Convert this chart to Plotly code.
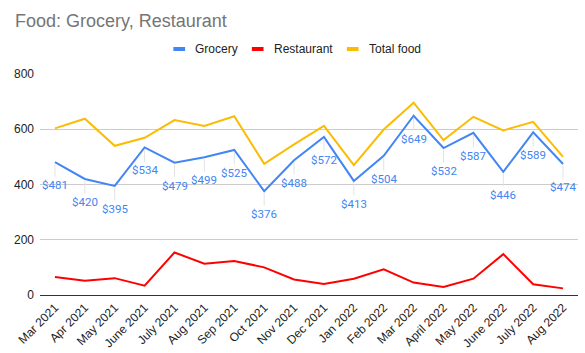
import plotly.graph_objects as go

months = ["Mar 2021", "Apr 2021", "May 2021", "June 2021", "July 2021", "Aug 2021",
          "Sep 2021", "Oct 2021", "Nov 2021", "Dec 2021", "Jan 2022", "Feb 2022",
          "Mar 2022", "April 2022", "May 2022", "June 2022", "July 2022", "Aug 2022"]
grocery = [481, 420, 395, 534, 479, 499, 525, 376, 488, 572, 413, 504, 649, 532, 587, 446, 589, 474]
restaurant = [65, 52, 61, 34, 154, 113, 123, 100, 56, 40, 59, 93, 45, 29, 59, 148, 39, 24]
total_food = [603, 638, 540, 569, 633, 612, 647, 475, 545, 612, 470, 599, 696, 561, 645, 596, 627, 500]

series = [("Grocery", grocery, "#4285F4"),
          ("Restaurant", restaurant, "#FF0000"),
          ("Total food", total_food, "#FBBC04")]

fig = go.Figure()
for name, vals, col in series:
    fig.add_trace(go.Scatter(x=months, y=vals, mode="lines", name=name,
                             line=dict(color=col, width=2), showlegend=False,
                             hoverinfo="skip"))

# data labels for grocery with faint leader lines
for m, v in zip(months, grocery):
    fig.add_annotation(x=m, y=v, xref="x", yref="y", text=f"${v}",
                       showarrow=True, arrowhead=0, arrowwidth=1, arrowcolor="#e3e3e3",
                       ax=0, ay=23, standoff=2,
                       font=dict(family="Roboto", size=11.5, color="#4285F4"))

# custom legend
L, R, T, B = 40, 7.3, 74, 58
W, H = 585, 353
pw, ph = W - L - R, H - T - B
def px2x(px):
    return (px - L) / pw
def py2y(py):
    return (H - B - py) / ph

leg_items = [(173.3, 193.3), (251.7, 272.3), (346.7, 367.3)]
for (sx, tx), (name, vals, col) in zip(leg_items, series):
    fig.add_shape(type="rect", xref="paper", yref="paper",
                  x0=px2x(sx), x1=px2x(sx + 11.7), y0=py2y(51), y1=py2y(47),
                  fillcolor=col, line=dict(width=0))
    fig.add_annotation(xref="paper", yref="paper", x=px2x(tx), y=py2y(49),
                       xanchor="left", yanchor="middle", showarrow=False, text=name,
                       font=dict(family="Liberation Sans, Arial", size=12, color="#222222"))

fig.update_layout(
    width=W, height=H, autosize=False,
    margin=dict(l=L, r=R, t=T, b=B, pad=0),
    paper_bgcolor="white", plot_bgcolor="white",
    title=dict(text="Food: Grocery, Restaurant", xref="container", yref="container",
               x=15 / W, xanchor="left", y=1 - 21 / H, yanchor="middle",
               font=dict(family="Liberation Sans, Arial", size=18, color="#757575")),
    font=dict(family="Liberation Sans, Arial", color="#222222"),
)
fig.update_xaxes(type="category", range=[-0.5, 17.5], tickangle=-45, automargin=False,
                 showgrid=False, showline=True, linecolor="#333333", linewidth=1,
                 ticks="", tickfont=dict(size=12, color="#222222"))
fig.update_yaxes(range=[0, 800], tickvals=[0, 200, 400, 600, 800], automargin=False,
                 showgrid=True, gridcolor="#cccccc", gridwidth=1,
                 zeroline=False, showline=False, ticks="", ticklen=0,
                 ticklabelstandoff=5,
                 tickfont=dict(size=12, color="#222222"))

fig.write_html("out.html")
